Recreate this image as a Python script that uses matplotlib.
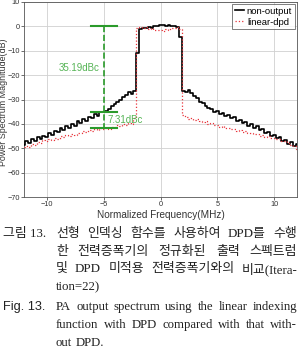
import matplotlib
matplotlib.use('Agg')
import matplotlib.pyplot as plt
import numpy as np

plt.rcParams['font.family'] = ['Liberation Sans', 'DejaVu Sans']

# 频率轴 (MHz)，步长 0.25
freq = np.arange(-12, 12.001, 0.25)

# non-output (黑线)
non_output = [
    -48.5, -47.0, -47.8, -46.2, -46.9, -45.5, -46.3, -44.8, -45.4, -43.6,
    -44.5, -42.9, -43.5, -41.8, -42.4, -40.9, -41.6, -40.2, -40.8, -39.0,
    -39.6, -38.2, -38.9, -37.1, -37.6, -36.0, -36.6, -35.2, -35.0, -34.8,
    -34.0, -32.8, -32.0, -31.2, -30.1, -29.0, -28.3, -27.0, -27.6, -26.4,
    -11.0, -1.0, -0.5, -0.8, -0.3, -0.6, 0.0, 0.3, 0.5, 0.6,
    0.2, 0.4, 0.0, 0.3, -0.2, -4.5, -26.5, -27.0, -26.3, -27.5,
    -28.5, -29.5, -31.0, -31.6, -32.6, -33.4, -33.9, -35.2, -34.8, -35.9,
    -35.6, -36.8, -36.5, -37.6, -37.2, -38.8, -38.4, -39.8, -39.3, -40.8,
    -40.2, -41.6, -41.0, -42.6, -42.1, -43.6, -43.2, -44.8, -44.4, -45.9,
    -45.4, -47.0, -46.6, -48.2, -47.6, -48.9, -48.3,
]

# linear-dpd (红色点线)
linear_dpd = [
    -49.6, -48.9, -49.3, -48.2, -48.6, -47.5, -47.9, -46.8, -47.1, -46.2,
    -46.6, -45.7, -46.0, -45.1, -45.5, -44.6, -44.9, -44.1, -44.5, -43.6,
    -43.9, -43.1, -43.5, -42.7, -43.0, -42.2, -42.6, -41.8, -42.3, -41.6,
    -42.0, -41.1, -41.4, -40.6, -40.9, -40.2, -40.5, -39.6, -39.9, -37.5,
    -0.5, -0.2, -0.6, -0.4, -1.0, -0.8, -1.3, -1.6, -1.5, -1.7,
    -1.2, -1.4, -0.8, -0.6, -0.3, -1.0, -36.5, -37.2, -37.8, -37.4,
    -38.6, -38.2, -39.0, -39.4, -39.0, -40.0, -39.7, -40.6, -40.3, -41.2,
    -40.9, -41.7, -41.5, -42.3, -42.0, -42.9, -42.6, -43.4, -43.1, -43.9,
    -43.6, -44.3, -44.0, -44.8, -44.5, -45.2, -44.9, -45.6, -45.6, -46.3,
    -46.0, -46.9, -47.2, -47.8, -48.5, -49.2, -50.2,
]

xticks = [-10, -5, 0, 5, 10]
yticks = [10, 0, -10, -20, -30, -40, -50, -60, -70]

# 标注
aclr_x = -5
aclr_top = 0
aclr_mid = -35.2
aclr_low = -41.5
label_big = '35.19dBc'
label_small = '7.31dBc'

cap_kr = [
    ('그림 13.', '선형 인덱싱 함수를 사용하여 DPD를 수행', True),
    ('', '한 전력증폭기의 정규화된 출력 스펙트럼', True),
    ('', '및 DPD 미적용 전력증폭기와의 비교(Itera-', True),
    ('', 'tion=22)', False),
]
cap_en = [
    ('Fig. 13.', 'PA output spectrum using the linear indexing', True),
    ('', 'function with DPD compared with that with-', True),
    ('', 'out DPD.', False),
]

W, H = 301, 349
fig = plt.figure(figsize=(W / 100, H / 100), dpi=100)
ax = fig.add_axes([24 / W, 1 - 197 / H, 273 / W, 195 / H])

ax.plot(freq, non_output, color='black', lw=1.2, drawstyle='steps-mid', label='non-output', zorder=3)
ax.plot(freq, linear_dpd, color='#e8333a', lw=0.9, ls=':', drawstyle='steps-mid', label='linear-dpd', zorder=4)

g_line = '#2a9a2a'
g_text = '#55b455'
ax.plot([aclr_x, aclr_x], [aclr_top, aclr_low], color=g_line, lw=1.2, ls='--', zorder=5)
for yy in [aclr_top, aclr_mid, aclr_low]:
    ax.plot([aclr_x - 1.15, aclr_x + 1.15], [yy, yy], color=g_line, lw=1.5, zorder=5)
ax.text(aclr_x - 0.35, -17, label_big, color=g_text, fontsize=7, ha='right', va='center', zorder=6)
ax.text(aclr_x + 0.35, -38.5, label_small, color=g_text, fontsize=7, ha='left', va='center', zorder=6)

ax.set_xlim(-12, 12)
ax.set_ylim(-70, 10)
ax.set_xticks(xticks)
ax.set_yticks(yticks)
ax.tick_params(labelsize=5.3, length=2, width=0.5, colors='#333333', pad=1)
ax.grid(True, color='#d0d0d0', lw=0.6)
for s in ax.spines.values():
    s.set_color('#555555')
    s.set_linewidth(0.6)
ax.set_xlabel('Normalized Frequency(MHz)', fontsize=7.2, color='#333333', labelpad=1)
fig.text(3.8 / W, 1 - 102 / H, 'Power Spectrum Magnitude(dB)', fontsize=6.4, color='#333333',
         rotation=90, ha='center', va='center')
leg = ax.legend(loc='upper right', fontsize=6.8, frameon=True, fancybox=False,
                handlelength=1.0, handletextpad=0.3, borderpad=0.3, labelspacing=0.2,
                borderaxespad=0.2, edgecolor='#444444')
leg.get_frame().set_linewidth(0.6)

# 图注，两端对齐
fig.canvas.draw()
renderer = fig.canvas.get_renderer()
fam_kr = ['Liberation Serif', 'Noto Sans CJK KR']
x0, x1 = 56, 297


def put_line(prefix, body, justify, y, fam, prefam, size):
    if prefix:
        fig.text(3 / W, 1 - y / H, prefix, family=prefam, fontsize=size, va='center', ha='left', color='#222222')
    words = body.split(' ')
    ts = [fig.text(0, 1 - y / H, w, family=fam, fontsize=size, va='center', ha='left', color='#222222') for w in words]
    widths = [t.get_window_extent(renderer).width for t in ts]
    if justify and len(words) > 1:
        gap = (x1 - x0 - sum(widths)) / (len(words) - 1)
    else:
        gap = fig.dpi * size / 72 * 0.25
    xx = x0
    for t, w in zip(ts, widths):
        t.set_x(xx / W)
        xx += w + gap


for i, (p, b, j) in enumerate(cap_kr):
    put_line(p, b, j, 234 + i * 17.6, fam_kr, fam_kr, 9.3)
for i, (p, b, j) in enumerate(cap_en):
    put_line(p, b, j, 307 + i * 17.8, ['Liberation Serif'], ['Liberation Sans'], 9.2)

fig.savefig('out.png', dpi=100)
